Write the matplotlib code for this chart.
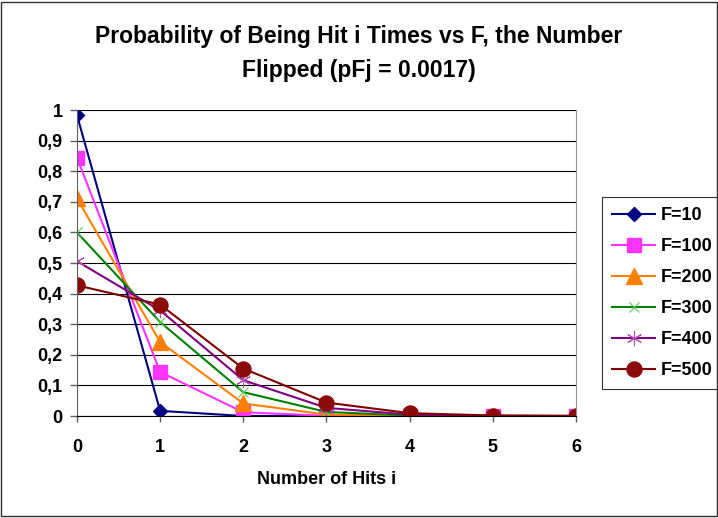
import matplotlib.pyplot as plt
import numpy as np

plt.rcParams['font.family'] = ['Liberation Sans', 'DejaVu Sans']
plt.rcParams['font.weight'] = 'bold'

hits = [0, 1, 2, 3, 4, 5, 6]
labels = ["F=10", "F=100", "F=200", "F=300", "F=400", "F=500"]
p10 = [0.983, 0.0168, 0.0001, 0.0, 0.0, 0.0, 0.0]
p100 = [0.844, 0.144, 0.0122, 0.0007, 0.0, 0.0, 0.0]
p200 = [0.711, 0.242, 0.041, 0.0046, 0.0004, 0.0, 0.0]
p300 = [0.600, 0.307, 0.078, 0.0132, 0.0017, 0.0002, 0.0]
p400 = [0.506, 0.345, 0.117, 0.0266, 0.0045, 0.0006, 0.0001]
p500 = [0.427, 0.364, 0.155, 0.0439, 0.0093, 0.0016, 0.0002]
ytick_labels = ['0', '0,1', '0,2', '0,3', '0,4', '0,5', '0,6', '0,7', '0,8', '0,9', '1']

fig = plt.figure(figsize=(7.18, 5.18), dpi=100)
# outer chart border
fig.patches.append(plt.Rectangle((0.002, 0.003), 0.996, 0.994, transform=fig.transFigure,
                                 fill=False, edgecolor='#303030', linewidth=1.0))
ax = fig.add_axes([0.1072, 0.1969, 0.6950, 0.5907])

styles = [
    dict(color='#000080', marker='D', ms=7.5, mfc='#000080', mec='#000080'),
    dict(color='#FF33FF', marker='s', ms=10, mfc='#FF33FF', mec='#FF33FF'),
    dict(color='#FF8000', marker='^', ms=11.5, mfc='#FF8000', mec='#FF8000'),
    dict(color='#008000', marker='x', ms=7, mfc='none', mec='#55CC55', mew=0.8),
    dict(color='#800080', marker=(6, 2, 0), ms=11, mfc='none', mec='#B050B0', mew=0.8),
    dict(color='#800000', marker='o', ms=10.8, mfc='#8B0A0A', mec='#8B0A0A'),
]
for ys, lab, st in zip([p10, p100, p200, p300, p400, p500], labels, styles):
    ax.plot(hits, ys, label=lab, linewidth=1.5, **st)

ax.set_xlim(0, 6)
ax.set_ylim(0, 1)
ax.set_yticks(np.arange(0, 1.01, 0.1))
ax.set_yticklabels(ytick_labels)
ax.set_xticks(hits)
ax.yaxis.grid(True, color='black', linewidth=0.8)
ax.set_axisbelow(True)
ax.spines['top'].set_visible(False)
ax.spines['right'].set_color('#909090')
ax.spines['left'].set_color('#606060')
ax.spines['bottom'].set_color('black')
ax.tick_params(axis='y', labelsize=13, colors='#606060', labelcolor='black', length=5, width=1, pad=5.5)
ax.tick_params(axis='x', labelsize=13, colors='#606060', labelcolor='black', length=4.3, width=1, pad=12)
ax.set_xlabel('Number of Hits i', fontsize=13, fontweight='bold')
ax.xaxis.set_label_coords(0.5, -0.18)
for t in ax.get_xticklabels() + ax.get_yticklabels():
    t.set_fontweight('bold')

fig.text(0.5, 0.917, 'Probability of Being Hit i Times vs F, the Number',
         ha='center', va='baseline', fontsize=16.5, fontweight='bold')
fig.text(0.5, 0.851, 'Flipped (pFj = 0.0017)',
         ha='center', va='baseline', fontsize=16.5, fontweight='bold')

leg = ax.legend(loc='upper left', bbox_to_anchor=(0.8385, 0.6197), bbox_transform=fig.transFigure,
                prop={'size': 13, 'weight': 'bold'}, frameon=True, fancybox=False,
                edgecolor='black', handlelength=2.4, labelspacing=0.78, borderpad=0.55,
                handletextpad=0.3, borderaxespad=0)
leg.get_frame().set_linewidth(0.8)

fig.savefig('out.png', dpi=100)
